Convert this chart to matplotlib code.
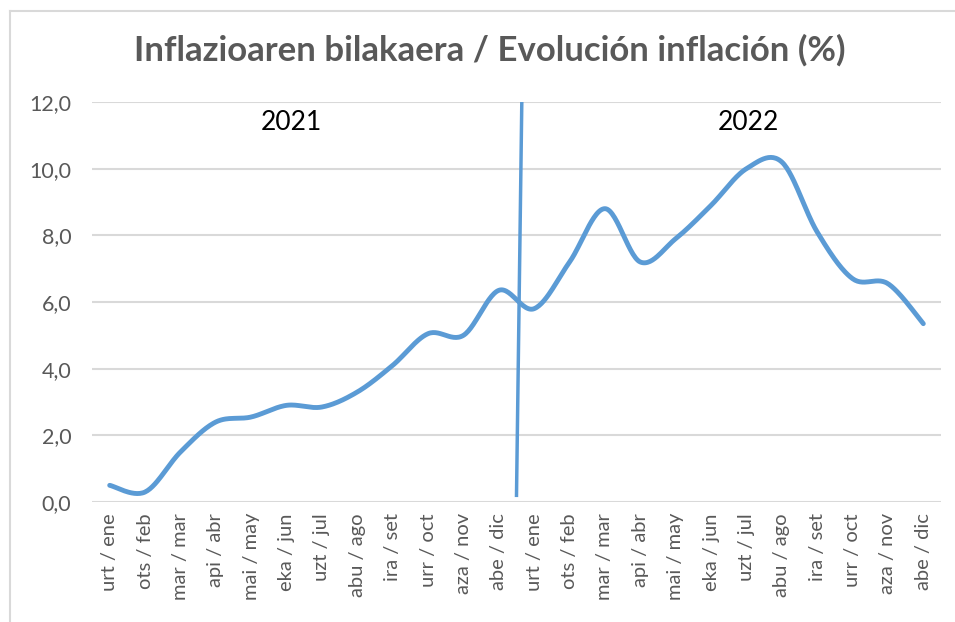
import matplotlib.pyplot as plt
import numpy as np
from matplotlib.lines import Line2D

# monthly inflation (%), Jan 2021 .. Dec 2022
months = ["urt / ene", "ots / feb", "mar / mar", "api / abr", "mai / may", "eka / jun",
          "uzt / jul", "abu / ago", "ira / set", "urr / oct", "aza / nov", "abe / dic"]
labels = months + months
inflation = [0.5, 0.3, 1.5, 2.4, 2.55, 2.9, 2.85, 3.3, 4.1, 5.05, 5.0, 6.35,
             5.8, 7.2, 8.8, 7.2, 7.9, 8.9, 10.0, 10.2, 8.1, 6.7, 6.55, 5.35]
years = ["2021", "2022"]
year_pos = [5.15, 18.05]

# hand-drawn separator between the two years
divider_x = [11.5, 11.65]
divider_y = [0.2, 12.0]

blue = "#5B9BD5"
gray = "#595959"
plt.rcParams['font.family'] = ['Lato', 'DejaVu Sans']


def smooth(x, y, n=30):
    """Excel-like smoothed line (Catmull-Rom through the points)."""
    p = np.column_stack([x, y]).astype(float)
    p_ext = np.vstack([p[0], p, p[-1]])
    out = []
    t = np.linspace(0, 1, n)[:, None]
    for i in range(len(p) - 1):
        p0, p1, p2, p3 = p_ext[i], p_ext[i + 1], p_ext[i + 2], p_ext[i + 3]
        c1 = p1 + (p2 - p0) / 6
        c2 = p2 - (p3 - p1) / 6
        seg = ((1 - t) ** 3) * p1 + 3 * ((1 - t) ** 2) * t * c1 + 3 * (1 - t) * t ** 2 * c2 + t ** 3 * p2
        out.append(seg)
    out = np.vstack(out)
    return out[:, 0], out[:, 1]


fig = plt.figure(figsize=(9.55, 6.22), dpi=100)
ax = fig.add_axes([92 / 955, 1 - 502 / 622, (941 - 92) / 955, 400 / 622])

x = np.arange(len(inflation))
sx, sy = smooth(x, inflation)
ax.plot(sx, sy, color=blue, lw=3.5, solid_capstyle='round', zorder=3)
ax.plot(divider_x, divider_y, color=blue, lw=2.5, zorder=3)

for yr, pos in zip(years, year_pos):
    ax.text(pos, 11.4, yr, ha='center', va='center', fontsize=19, color='black')

ax.set_xlim(-0.5, len(inflation) - 0.5)
ax.set_ylim(0, 12)
ax.set_yticks(np.arange(0, 12.1, 2))
ax.set_yticklabels([f"{v:.1f}".replace('.', ',') for v in np.arange(0, 12.1, 2)],
                   fontsize=15.5, color=gray)
ax.set_xticks(x)
ax.set_xticklabels(labels, rotation=90, fontsize=14.5, color=gray)
ax.tick_params(axis='y', length=0, pad=15)
ax.tick_params(axis='x', length=0, pad=8)
ax.grid(axis='y', color='#D9D9D9', lw=1.5)
ax.set_axisbelow(True)
for s in ax.spines.values():
    s.set_visible(False)

fig.text(490 / 955, 1 - 50 / 622, "Inflazioaren bilakaera / Evolución inflación (%)",
         ha='center', va='center', fontsize=25, fontweight='bold', color=gray)

# chart frame (top and left edge visible)
fig.add_artist(Line2D([10 / 955, 1], [1 - 11 / 622, 1 - 11 / 622], color='#D9D9D9', lw=1.5,
                      transform=fig.transFigure))
fig.add_artist(Line2D([10 / 955, 10 / 955], [0, 1 - 11 / 622], color='#D9D9D9', lw=1.5,
                      transform=fig.transFigure))

fig.savefig("out.png", dpi=100)
